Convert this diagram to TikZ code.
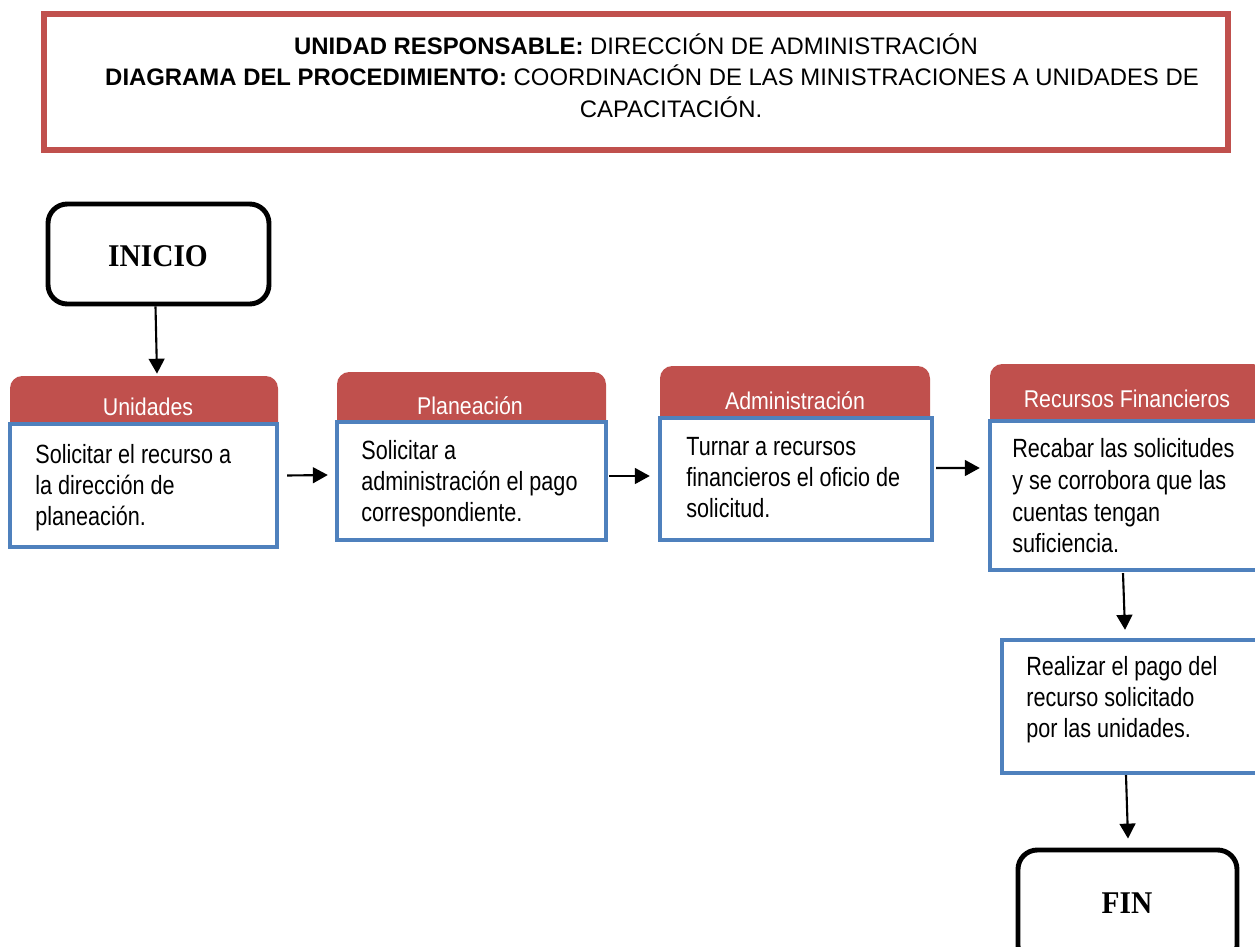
\documentclass[tikz,border=0pt]{standalone}
\usepackage{fontspec}
\setmainfont{Liberation Sans}
\newfontfamily\bodyfont{Liberation Sans}[FakeStretch=0.82]
\newfontfamily\lanefont{Liberation Sans}[FakeStretch=0.88]
\newfontfamily\termfont{Liberation Serif}[FakeStretch=0.93]
\usetikzlibrary{arrows.meta,fit,calc}
\definecolor{hred}{HTML}{C0504D}
\definecolor{lblue}{HTML}{4F81BD}
\begin{document}
\begin{tikzpicture}[x=0.02cm,y=-0.02cm,
  titlebox/.style={draw=hred, line width=3.1pt, fill=white, inner sep=0pt},
  titletxt/.style={anchor=base, inner sep=0pt, font=\fontsize{13.6}{15}\selectfont},
  termbox/.style={draw=black, line width=2.8pt, rounded corners=11pt, fill=white, inner sep=0pt},
  termtxt/.style={anchor=base, inner sep=0pt, font=\termfont\bfseries\fontsize{18}{20}\selectfont},
  lanehead/.style={fill=hred, rounded corners=7pt, inner sep=0pt},
  lanetxt/.style={anchor=base, inner sep=0pt, text=white, font=\lanefont\fontsize{13.8}{16}\selectfont},
  stepbox/.style={draw=lblue, line width=2.5pt, fill=white, inner sep=0pt},
  steptxt/.style={anchor=north west, inner sep=0pt, align=left, font=\bodyfont\fontsize{15}{17.6}\selectfont},
  arr/.style={-{Triangle[length=8.5pt,width=9pt]}, line width=1.2pt}]
\useasboundingbox (0,0) rectangle (1255,947);
\clip (0,0) rectangle (1255,947);
\fill[white] (0,0) rectangle (1255,947);

% title
\node[titlebox, fit={(44,14) (1228,150)}] (hd) {};
\node[titletxt] (h1) at (636,54) {\textbf{UNIDAD RESPONSABLE:} DIRECCIÓN DE ADMINISTRACIÓN};
\node[titletxt] (h2) at (652,85) {\textbf{DIAGRAMA DEL PROCEDIMIENTO:} COORDINACIÓN DE LAS MINISTRACIONES A UNIDADES DE};
\node[titletxt] (h3) at (671,117) {CAPACITACIÓN.};

% terminals
\node[termbox, fit={(48,204) (269,304)}] (ini) {};
\node[termtxt] (init) at (158,266) {INICIO};
\node[termbox, fit={(1018,850) (1237,965)}] (fin) {};
\node[termtxt] (fint) at (1127,913) {FIN};

% Unidades
\node[lanehead, fit={(10,376) (278,470)}] (uh) {};
\node[stepbox, fit={(10,424) (277,547)}] (u) {};
\node[lanetxt] (uht) at (148,415) {Unidades};
\node[steptxt] (ut) at (35,444) {Solicitar el recurso a\\la dirección de\\planeación.};

% Planeacion
\node[lanehead, fit={(337,372) (606,470)}] (ph) {};
\node[stepbox, fit={(337,422) (606,540)}] (p) {};
\node[lanetxt] (pht) at (470,414) {Planeación};
\node[steptxt] (pt) at (361,440) {Solicitar a\\administración el pago\\correspondiente.};

% Administracion
\node[lanehead, fit={(660,366) (930,470)}] (ah) {};
\node[stepbox, fit={(660,418) (932,540)}] (a) {};
\node[lanetxt] (aht) at (795,409) {Administración};
\node[steptxt] (at) at (686,437) {Turnar a recursos\\financieros el oficio de\\solicitud.};

% Recursos Financieros
\node[lanehead, fit={(990,364) (1265,470)}] (rh) {};
\node[stepbox, fit={(990,421) (1265,570)}] (r) {};
\node[lanetxt] (rht) at (1127,407) {Recursos Financieros};
\node[steptxt, font=\bodyfont\fontsize{15}{18.1}\selectfont] (rt) at (1012,438) {Recabar las solicitudes\\y se corrobora que las\\cuentas tengan\\suficiencia.};

% Realizar
\node[stepbox, fit={(1002,640) (1265,773)}] (rz) {};
\node[steptxt] (rzt) at (1026,656) {Realizar el pago del\\recurso solicitado\\por las unidades.};

% connectors
\draw[arr] ($(ini.south)+(-3,0)$) -- ($(uh.north)+(13,-2)$);
\draw[arr] ($(u.east)+(8,-10)$) -- ($(p.west)+(-7,-6)$);
\draw[arr] ($(p.east)+(1,-5)$) -- ($(a.west)+(-8,-3)$);
\draw[arr] ($(a.east)+(2,-11)$) -- ($(r.west)+(-8,-27.5)$);
\draw[arr] ($(r.south)+(-4.5,1)$) -- ($(rz.north)+(-8.5,-8)$);
\draw[arr] ($(rz.south)+(-7.5,0)$) -- ($(fin.north)+(0.5,-9)$);
\end{tikzpicture}
\end{document}
